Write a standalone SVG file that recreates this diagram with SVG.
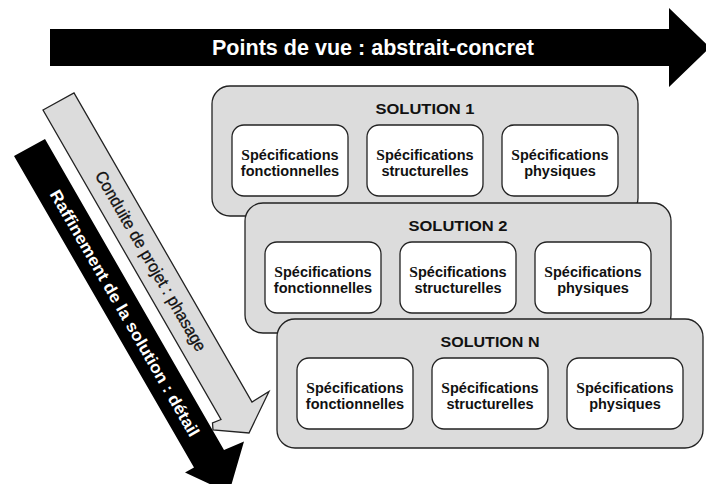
<svg xmlns="http://www.w3.org/2000/svg" width="706" height="484" viewBox="0 0 706 484">
<style>
.sol{fill:#dcdcdc;stroke:#222;stroke-width:1.3}
.box{fill:#fff;stroke:#222;stroke-width:1.3}
.title{font-family:"Liberation Sans",Arial,sans-serif;font-weight:bold;font-size:15.5px;fill:#111;text-anchor:middle}
.spec{font-family:"Liberation Sans",Arial,sans-serif;font-weight:bold;font-size:14.5px;fill:#111;text-anchor:middle}
.S{font-family:"Liberation Serif","Times New Roman",serif;font-size:15.5px}
.arrowtxt{font-family:"Liberation Sans",Arial,sans-serif;text-anchor:middle}
</style>
<defs>
<g id="specs">
<rect class="box" x="20" y="39" width="116" height="71" rx="12"/>
<rect class="box" x="155" y="39" width="116" height="71" rx="12"/>
<rect class="box" x="290" y="39" width="116" height="71" rx="12"/>
<text class="spec" x="78" y="73.5"><tspan class="S">S</tspan>pécifications</text>
<text class="spec" x="78" y="90">fonctionnelles</text>
<text class="spec" x="213" y="73.5"><tspan class="S">S</tspan>pécifications</text>
<text class="spec" x="213" y="90">structurelles</text>
<text class="spec" x="348" y="73.5"><tspan class="S">S</tspan>pécifications</text>
<text class="spec" x="348" y="90">physiques</text>
</g>
</defs>
<g id="connectors">
<g id="arrow-points-de-vue">
<polygon points="50,29 669,29 669,8 710,47.5 669,87 669,66 50,66" fill="#000"/>
<text class="arrowtxt" x="373" y="55" font-size="21.5" font-weight="bold" fill="#fff" textLength="322" lengthAdjust="spacingAndGlyphs">Points de vue : abstrait-concret</text>
</g>
<g id="arrow-conduite">
<polygon points="43,110 74,93 252,402 269,391.5 249,433 213,430 212.5,423 221,419.5" fill="#dcdcdc" stroke="#222" stroke-width="1.3" stroke-linejoin="miter"/>
<text class="arrowtxt" transform="translate(151,261) rotate(60)" x="0" y="6" font-size="17" fill="#111" stroke="#111" stroke-width="0.3" textLength="205" lengthAdjust="spacingAndGlyphs">Conduite de projet : phasage</text>
</g>
<g id="arrow-raffinement">
<polygon points="14,156 45,139 224,450 244,441.5 229,493 185,472.5 194,467.5" fill="#000"/>
<text class="arrowtxt" transform="translate(125,313) rotate(60)" x="0" y="6" font-size="16.5" font-weight="bold" fill="#fff" textLength="282" lengthAdjust="spacingAndGlyphs">Raffinement de la solution : détail</text>
</g>
</g>
<g id="solution1" transform="translate(212,86)">
<rect class="sol" x="0" y="0" width="426" height="130" rx="18"/>
<text class="title" x="213" y="28" textLength="99" lengthAdjust="spacingAndGlyphs">SOLUTION 1</text>
<use href="#specs"/>
</g>
<g id="solution2" transform="translate(245,203)">
<rect class="sol" x="0" y="0" width="426" height="130" rx="18"/>
<text class="title" x="213" y="27.5" textLength="99" lengthAdjust="spacingAndGlyphs">SOLUTION 2</text>
<use href="#specs"/>
</g>
<g id="solutionN" transform="translate(277,319)">
<rect class="sol" x="0" y="0" width="426" height="129" rx="18"/>
<text class="title" x="213" y="28" textLength="99" lengthAdjust="spacingAndGlyphs">SOLUTION N</text>
<use href="#specs"/>
</g>
</svg>
